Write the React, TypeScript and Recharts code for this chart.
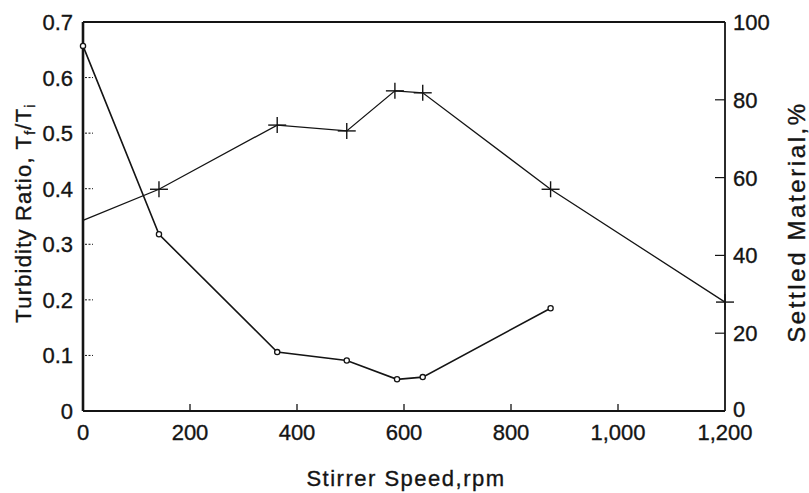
import React from "react";
import { LineChart, Line, XAxis, YAxis, ReferenceLine } from "recharts";

const speedTicks = [0, 200, 400, 600, 800, 1000, 1200];
const turbidityTicks = [0, 0.1, 0.2, 0.3, 0.4, 0.5, 0.6, 0.7];
const settledTicks = [0, 20, 40, 60, 80, 100];

const turbiditySpeed = [0, 142, 363, 493, 587, 635, 874];
const turbidityRatio = [0.657, 0.318, 0.106, 0.091, 0.057, 0.061, 0.185];

const settledSpeed = [0, 142, 363, 493, 583, 635, 874, 1200];
const settledPct = [49, 57, 73.5, 72, 82.3, 81.8, 57, 28];

const turbidityData = turbiditySpeed.map((s, i) => ({ speed: s, ratio: turbidityRatio[i] }));
const settledData = settledSpeed.map((s, i) => ({ speed: s, settled: settledPct[i] }));

const FONT = "'Liberation Sans', Arial, Helvetica, sans-serif";
const INK = "#141414";
const TXT = { fontFamily: FONT, fill: INK, stroke: INK, strokeWidth: 0.35 };

const BottomTick = (props: any) => {
  const { x, y, payload } = props;
  const v = payload.value;
  const showLine = v > 0 && v < 1200;
  return (
    <g>
      {showLine && <line x1={x} y1={y} x2={x} y2={y - 7} stroke={INK} strokeWidth={1.3} />}
      <text x={x} y={y + 29} textAnchor="middle" fontSize={22} {...TXT}>
        {v.toLocaleString("en-US")}
      </text>
    </g>
  );
};

const LeftTick = (props: any) => {
  const { x, y, payload } = props;
  const v = payload.value;
  const showLine = v > 0 && v < 0.7;
  const label = v === 0 ? "0" : v.toFixed(1);
  return (
    <g>
      {showLine && <line x1={x + 2} y1={y} x2={x + 10} y2={y} stroke={INK} strokeWidth={1} strokeDasharray="2 1.5" />}
      <text x={x - 10} y={y + 8} textAnchor="end" fontSize={22} {...TXT}>
        {label}
      </text>
    </g>
  );
};

const RightTick = (props: any) => {
  const { x, y, payload } = props;
  const v = payload.value;
  const showLine = v > 0 && v < 100;
  const dy = v === 0 ? 6 : 8;
  return (
    <g>
      {showLine && <line x1={x - 10} y1={y} x2={x} y2={y} stroke={INK} strokeWidth={1.2} />}
      <text x={x + 8} y={y + dy} textAnchor="start" fontSize={22} {...TXT}>
        {String(v)}
      </text>
    </g>
  );
};

const CircleDot = (props: any) => {
  const { cx, cy, index } = props;
  return <circle key={`c${index}`} cx={cx} cy={cy} r={2.6} fill="#fff" stroke={INK} strokeWidth={1.3} />;
};

const PlusDot = (props: any) => {
  const { cx, cy, index } = props;
  if (index === 0) return <g key={`p${index}`} />;
  return (
    <g key={`p${index}`}>
      <line x1={cx - 9} y1={cy} x2={cx + 9} y2={cy} stroke={INK} strokeWidth={1.4} />
      <line x1={cx} y1={cy - 8} x2={cx} y2={cy + 8} stroke={INK} strokeWidth={1.4} />
    </g>
  );
};

const LeftTitle = () => (
  <text
    x={31}
    y={213}
    transform="rotate(-90 31 213)"
    textAnchor="middle"
    fontSize={22}
    letterSpacing={1.2}
    {...TXT}
  >
    Turbidity Ratio, T
    <tspan fontSize={14} dy={4}>f</tspan>
    <tspan dy={-4}>/T</tspan>
    <tspan fontSize={14} dy={4}>i</tspan>
  </text>
);

const RightTitle = () => (
  <text
    x={805}
    y={222}
    transform="rotate(-90 805 222)"
    textAnchor="middle"
    fontSize={24}
    letterSpacing={2.6}
    {...TXT}
  >
    Settled Material,%
  </text>
);

const BottomTitle = () => (
  <text x={406} y={486} textAnchor="middle" fontSize={22} letterSpacing={1.5} {...TXT}>
    Stirrer Speed,rpm
  </text>
);

export default function App() {
  return (
    <div style={{ position: "absolute", left: 0, top: 0, background: "#fff" }}>
      <LineChart width={809} height={493} margin={{ top: 22, right: 0, bottom: 0, left: 0 }}>
        <XAxis
          dataKey="speed"
          type="number"
          domain={[0, 1200]}
          ticks={speedTicks}
          allowDuplicatedCategory={false}
          height={82}
          tickSize={0}
          tickMargin={0}
          tick={<BottomTick />}
          axisLine={{ stroke: INK, strokeWidth: 2 }}
          tickLine={false}
          label={{ content: () => <BottomTitle /> }}
        />
        <YAxis
          yAxisId="left"
          orientation="left"
          type="number"
          domain={[0, 0.7]}
          ticks={turbidityTicks}
          width={83}
          tickSize={0}
          tickMargin={0}
          tick={<LeftTick />}
          axisLine={{ stroke: INK, strokeWidth: 2.6 }}
          tickLine={false}
          label={{ content: () => <LeftTitle /> }}
        />
        <YAxis
          yAxisId="right"
          orientation="right"
          type="number"
          domain={[0, 100]}
          ticks={settledTicks}
          width={84}
          tickSize={0}
          tickMargin={0}
          tick={<RightTick />}
          axisLine={{ stroke: INK, strokeWidth: 1.8 }}
          tickLine={false}
          label={{ content: () => <RightTitle /> }}
        />
        <ReferenceLine yAxisId="left" y={0.7} stroke={INK} strokeWidth={2} />
        <Line
          yAxisId="left"
          data={turbidityData}
          dataKey="ratio"
          type="linear"
          stroke={INK}
          strokeWidth={1.6}
          dot={<CircleDot />}
          activeDot={false}
          isAnimationActive={false}
        />
        <Line
          yAxisId="right"
          data={settledData}
          dataKey="settled"
          type="linear"
          stroke={INK}
          strokeWidth={1.3}
          dot={<PlusDot />}
          activeDot={false}
          isAnimationActive={false}
        />
      </LineChart>
    </div>
  );
}
